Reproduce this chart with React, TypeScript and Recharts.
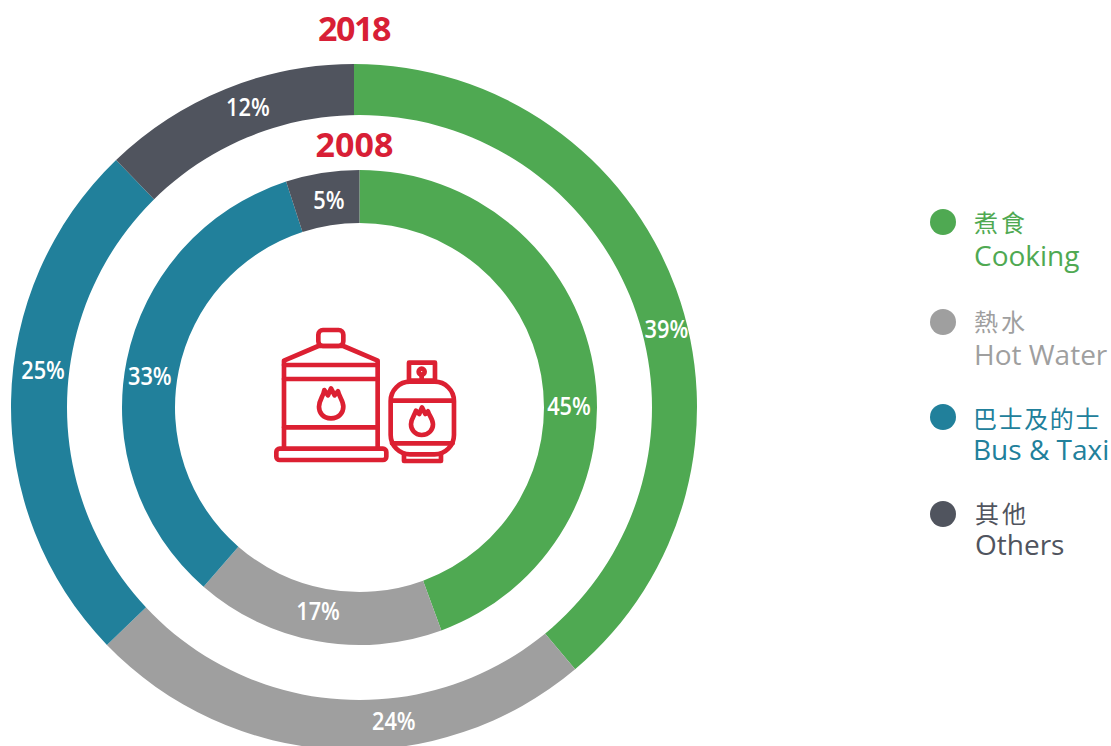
import React from "react";
import { PieChart, Pie, Cell, Legend } from "recharts";

const categoriesZh = ["煮食", "熱水", "巴士及的士", "其他"];
const categoriesEn = ["Cooking", "Hot Water", "Bus & Taxi", "Others"];
const colors = ["#4fa952", "#9f9f9f", "#21809b", "#50545e"];
const values2018 = [38.85, 23.95, 25, 12.2];
const values2008 = [44.4, 17, 33.6, 5];
const labels2018 = ["39%", "24%", "25%", "12%"];
const labels2008 = ["45%", "17%", "33%", "5%"];
const holeData = [{ name: "hole", value: 1 }];

const rows = (vals: number[], labels: string[]) =>
  vals.map((value, i) => ({ name: categoriesEn[i], value, label: labels[i] }));

// Hand-placed label spots in the reference: [clockwise angle from top, radius]
const spots2018 = [[76, 322], [172.8, 317.5], [276.6, 313], [340.5, 318]];
const spots2008 = [[89.7, 209.5], [191.5, 208], [278.4, 212], [351.6, 209]];

const RED = "#dc2032";
const TEXT_FONT = "'Open Sans',sans-serif";
const CJK_FONT = "'Noto Sans CJK TC',sans-serif";

const makeLabel = (spots: number[][], labels: string[]) => (p: any) => {
  const [a, r] = spots[p.index];
  const rad = (a * Math.PI) / 180;
  const x = p.cx + r * Math.sin(rad);
  const y = p.cy - r * Math.cos(rad) - 1.2;
  return (
    <text
      transform={`translate(${x},${y}) scale(0.87,1)`}
      fill="#fff"
      textAnchor="middle"
      dominantBaseline="central"
      fontFamily={TEXT_FONT}
      fontWeight={600}
      fontSize={25}
    >
      {labels[p.index]}
    </text>
  );
};

const Icon = () => (
  <g
    transform="translate(260,310) scale(0.3333)"
    fill="none"
    stroke={RED}
    strokeWidth={14}
    strokeLinejoin="round"
    strokeLinecap="round"
  >
    <rect x={175} y={60} width={75} height={48} rx={14} />
    <path d="M175 108 L72 152 L72 415 M250 108 L353 152 L353 415 M175 108 H250" />
    <path d="M72 165 H353 M72 207 H353 M72 352 H353" />
    <rect x={49} y={416} width={330} height={34} rx={10} />
    <path d="M213 325 C188 325 177 307 177 290 C177 270 190 260 193 240 L204 256 L213 235 L224 256 L234 244 C238 262 250 272 250 290 C250 307 238 325 213 325 Z" />
    <rect x={447} y={158} width={78} height={54} />
    <circle cx={485} cy={185} r={9} />
    <path d="M485 194 V212" />
    <rect x={392} y={215} width={190} height={218} rx={58} />
    <path d="M394 272 H580 M396 400 H578" />
    <path d="M432 433 V453 H543 V433" />
    <path d="M485 375 C464 375 453 358 453 343 C453 325 464 316 468 302 L478 312 L486 292 L496 312 L504 304 C508 318 519 328 519 343 C519 358 508 375 485 375 Z" />
  </g>
);

const legendRows = [222, 322, 417, 514];
const legendZhY = [222, 321, 418, 513];
const legendEnY = [255, 354, 449, 544];
const legendX = [974, 974, 973, 975];

const LegendBody = () => (
  <div style={{ position: "relative", width: 191, height: 370 }}>
    {categoriesEn.map((en, i) => (
      <React.Fragment key={en}>
        <div
          style={{
            position: "absolute",
            left: 10,
            top: legendRows[i] - 200 - 13,
            width: 26,
            height: 26,
            borderRadius: 13,
            background: colors[i],
          }}
        />
        <div
          style={{
            position: "absolute",
            left: legendX[i] - 920,
            top: legendZhY[i] - 200 - 15,
            lineHeight: "30px",
            fontFamily: CJK_FONT,
            fontSize: 24,
            letterSpacing: categoriesZh[i].length === 2 ? 3 : 1.6,
            whiteSpace: "nowrap",
            color: colors[i],
          }}
        >
          {categoriesZh[i]}
        </div>
        <div
          style={{
            position: "absolute",
            left: legendX[i] - 920,
            top: legendEnY[i] - 200 - 17,
            lineHeight: "34px",
            fontFamily: TEXT_FONT,
            fontSize: 28,
            whiteSpace: "nowrap",
            color: colors[i],
          }}
        >
          {en}
        </div>
      </React.Fragment>
    ))}
  </div>
);

const Titles = () => (
  <g fontFamily={TEXT_FONT} fontWeight={700} fontSize={34} fill="#d81f36" textAnchor="middle">
    <text x={354} y={41} letterSpacing={-1.4}>2018</text>
    <text x={354.5} y={157}>2008</text>
  </g>
);

export default function App() {
  return (
    <div style={{ position: "absolute", left: 0, top: 0, width: 1111, height: 746, overflow: "hidden" }}>
      <PieChart width={1111} height={746} margin={{ top: 0, right: 0, bottom: 0, left: 0 }}>
        <Pie
          data={rows(values2018, labels2018)}
          dataKey="value"
          cx={354}
          cy={407}
          innerRadius={280}
          outerRadius={343}
          startAngle={90}
          endAngle={-270}
          stroke="none"
          isAnimationActive={false}
          labelLine={false}
          label={makeLabel(spots2018, labels2018)}
        >
          {values2018.map((_, i) => <Cell key={i} fill={colors[i]} />)}
        </Pie>
        {/* The reference's outer ring has an off-centre hole: it shares the inner ring's centre */}
        <Pie
          data={holeData}
          dataKey="value"
          cx={359.5}
          cy={407.5}
          innerRadius={0}
          outerRadius={292.5}
          startAngle={90}
          endAngle={-270}
          fill="#fff"
          stroke="none"
          isAnimationActive={false}
          label={false}
          labelLine={false}
        />
        <Pie
          data={rows(values2008, labels2008)}
          dataKey="value"
          cx={359.5}
          cy={407.5}
          innerRadius={184.5}
          outerRadius={237.5}
          startAngle={90}
          endAngle={-270}
          stroke="none"
          isAnimationActive={false}
          labelLine={false}
          label={makeLabel(spots2008, labels2008)}
        >
          {values2008.map((_, i) => <Cell key={i} fill={colors[i]} />)}
        </Pie>
        <Legend
          content={<LegendBody />}
          wrapperStyle={{ position: "absolute", left: 920, top: 200, width: 191, height: 370 }}
        />
      </PieChart>
      <svg
        width={1111}
        height={746}
        style={{ position: "absolute", left: 0, top: 0, pointerEvents: "none" }}
      >
        <Titles />
        <Icon />
      </svg>
    </div>
  );
}
